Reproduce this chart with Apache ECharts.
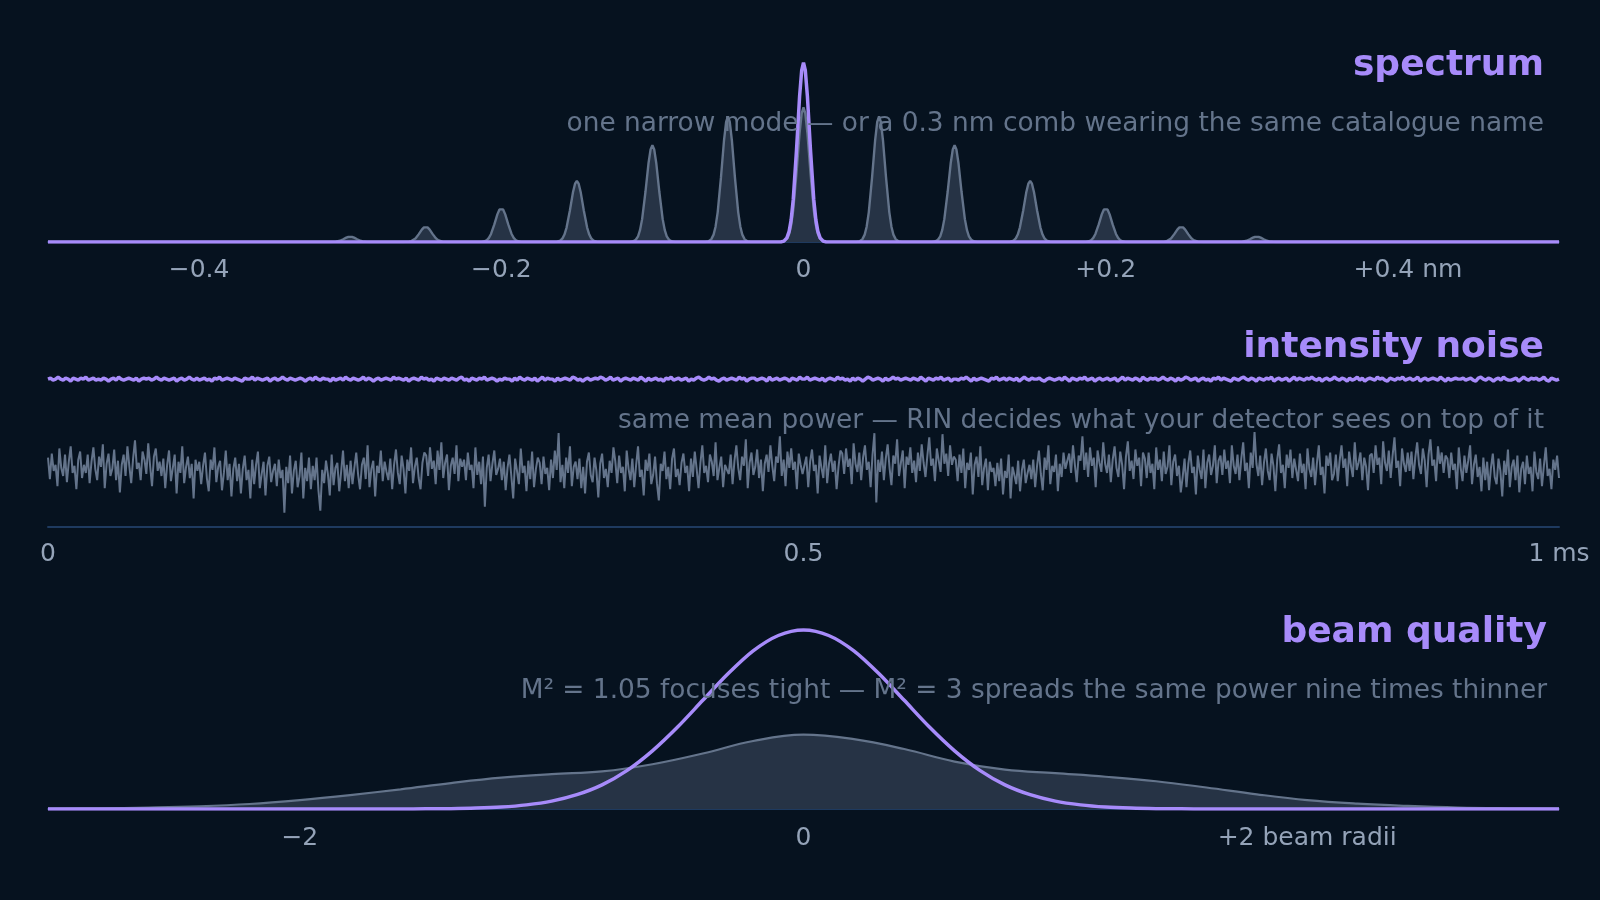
<!DOCTYPE html>
<html>
<head>
<meta charset="utf-8">
<title>laser spec sheet</title>
<script src="https://cdn.jsdelivr.net/npm/echarts@6/dist/echarts.min.js"></script>
<style>
  html, body { margin: 0; padding: 0; background: #06121f; }
  #main { width: 1600px; height: 900px; }
</style>
</head>
<body>
<div id="main"></div>
<script>
// spectrum panel (nm, relative power)
var specTicks = [-0.4, -0.2, 0, 0.2, 0.4];
var specTickLabels = ['\u22120.4', '\u22120.2', '0', '+0.2', '+0.4 nm'];
var combCentres = [-0.3, -0.25, -0.2, -0.15, -0.1, -0.05, 0, 0.05, 0.1, 0.15, 0.2, 0.25, 0.3];
var combHeights = [0.03, 0.085, 0.19, 0.34, 0.54, 0.70, 0.75, 0.70, 0.54, 0.34, 0.19, 0.085, 0.03];
var modeCentres = [0];
var modeHeights = [1];
// line shape of one longitudinal mode: offset from centre (nm) and fraction of peak
var lineShapeOffsets = [-0.015, -0.013, -0.011, -0.0095, -0.0082, -0.0068, -0.0046, -0.0026, -0.0012, 0,
                        0.0012, 0.0026, 0.0046, 0.0068, 0.0082, 0.0095, 0.011, 0.013, 0.015];
var lineShapeLevels = [0, 0.005, 0.023, 0.059, 0.122, 0.236, 0.516, 0.81, 0.956, 1,
                       0.956, 0.81, 0.516, 0.236, 0.122, 0.059, 0.023, 0.005, 0];

// intensity noise panel (ms, arbitrary units)
var noiseTicks = [0, 0.5, 1];
var noiseTickLabels = ['0', '0.5', '1 ms'];
var quietTrace = [
  145,146,144,145,147,145,144,146,145,143,146,145,144,146,145,147,144,145,146,144,
  145,144,146,145,143,145,146,144,147,145,144,145,146,145,144,146,143,145,146,145,
  146,144,145,147,145,144,146,145,144,145,146,143,145,146,144,145,147,145,144,146,
  144,145,146,144,145,143,146,145,147,144,145,146,145,144,146,145,144,143,146,145,
  145,147,144,146,145,144,145,146,143,145,146,144,145,147,145,144,146,145,144,145,
  146,145,143,145,146,144,147,145,144,146,145,145,143,146,144,145,146,144,147,145,
  144,146,145,144,145,147,144,146,145,143,145,146,144,145,146,145,144,147,145,146,
  145,144,146,143,145,146,145,144,147,145,146,144,145,143,146,145,144,146,145,144,
  146,145,144,146,147,144,145,143,146,145,144,146,145,147,144,145,146,145,143,145,
  144,146,145,145,143,146,144,147,145,144,146,145,144,146,143,145,147,144,146,145,
  145,143,146,144,145,146,145,144,147,146,144,145,143,145,146,144,145,146,145,147,
  146,144,145,147,144,145,146,143,145,146,145,144,146,145,144,147,145,143,146,144,
  145,146,144,145,143,146,145,147,144,145,146,144,145,146,143,145,144,146,147,145,
  144,145,147,145,146,144,143,145,146,144,145,146,145,144,147,145,146,143,145,146,
  146,144,145,146,145,143,147,144,145,146,144,145,146,145,143,146,145,144,147,145,
  145,147,144,145,146,145,144,146,143,145,146,145,144,147,145,146,144,145,143,146,
  144,146,145,143,145,147,146,144,145,146,145,143,146,144,145,147,145,146,144,145,
  146,145,144,146,145,144,147,145,143,146,145,144,146,145,147,144,145,146,143,145,
  145,144,146,145,147,145,143,146,144,145,146,145,144,143,146,145,147,144,145,146,
  144,146,145,144,146,143,145,147,145,144,146,145,145,146,144,143,145,146,145,144,
  145,146,144,147,145,143,146,145,144,146,145,147,144,145,146,143,145,146,144,145,
  146,144,145,146,143,145,147,144,146,145,144,146,145,143,147,145,144,146,145,146,
  144,145,147,145,144,146,145,143,146,144,145,147,146,144,145,146,143,145,146,144,
  145,143,146,145,147,144,146,145,144,143,146,145,144,146,147,145,144,146,145,143,
  146,145,144,146,145,147,143,145,146,144,145,146,143,145,147,144,146,145,144,146,
  145,147,145,144,146,143,145,146,144,145,147,145,144,146,145,143,146,144,145,147,
  144,146,143,145,146,145,144,147,145,146,144,143,146,145,144,146,145,147,144,145,
  146,144,145,147,143,145,146,144,145,146,145,144,147,145,143,146,144,145,146,145,
  145,146,144,145,146,144,143,146,147,145,144,146,145,143,145,146,144,147,145,144,
  144,145,146,143,145,147,145,144,146,145,146,144,145,147,144,143,146,145,144,145
];
var noisyTrace = [
  68,47,72,55,61,40,77,58,50,71,44,64,79,53,60,37,66,74,48,61,
  53,71,43,64,78,57,46,69,59,81,38,62,72,50,57,76,46,65,34,61,
  71,50,79,60,43,67,85,57,63,46,74,66,52,82,60,40,69,77,55,64,
  50,67,38,61,75,45,58,71,33,64,53,79,43,59,69,48,62,28,66,55,
  64,42,60,73,48,35,66,56,78,44,59,65,36,53,75,46,62,30,57,68,
  45,62,33,57,70,46,56,28,66,42,61,74,38,52,64,31,60,69,44,55,
  62,40,66,48,56,14,59,43,70,33,55,65,39,50,73,28,58,45,68,37,
  60,46,68,36,16,56,43,65,52,31,71,41,58,63,35,54,75,45,61,38,
  65,42,58,73,51,37,61,68,47,80,39,57,65,30,60,53,75,45,64,54,
  46,67,37,61,76,53,42,70,57,33,66,55,78,43,59,68,48,37,63,73,
  70,50,78,57,65,42,75,56,83,48,63,71,36,60,68,52,80,45,67,59,
  66,46,73,56,61,38,78,51,64,42,69,20,58,71,45,62,75,51,57,67,
  46,64,36,58,71,50,28,67,55,42,77,53,60,35,65,47,74,39,57,68,
  63,42,69,52,58,36,66,48,75,56,92,44,61,38,68,53,79,40,59,64,
  47,67,38,59,33,64,73,51,44,68,55,29,62,72,48,57,39,65,53,78,
  64,43,70,53,59,35,75,57,46,67,39,61,79,49,56,31,66,55,72,42,
  51,69,43,26,62,55,74,47,59,37,67,77,49,57,41,63,72,53,60,35,
  67,49,74,57,38,63,80,53,60,44,71,64,50,83,46,58,69,39,61,56,
  52,71,42,65,80,58,46,69,60,86,38,63,73,51,59,76,48,66,35,62,
  71,54,80,60,45,69,63,89,50,66,40,74,58,77,56,64,37,72,61,52,
  51,69,39,64,76,55,61,33,70,58,48,80,43,62,72,54,65,37,59,75,
  72,52,77,59,67,42,82,62,54,73,46,68,80,56,64,39,71,92,24,66,
  54,74,46,67,81,58,41,70,62,86,50,63,75,38,69,61,78,53,65,44,
  73,55,81,63,49,70,88,60,67,45,77,65,54,91,62,72,50,80,61,69,
  66,45,71,53,77,38,63,56,73,32,61,69,49,79,41,58,67,36,64,54,
  58,40,63,45,67,32,55,48,71,28,59,51,42,65,35,56,66,43,53,61,
  47,66,39,60,75,52,36,68,56,80,42,60,54,71,35,62,49,73,57,65,
  72,53,80,61,44,70,65,89,56,73,49,78,60,68,39,75,63,54,83,62,
  53,71,44,66,79,58,49,74,61,37,69,84,55,65,47,76,60,68,40,73,
  67,48,73,53,62,37,78,56,66,45,74,52,59,80,41,64,71,50,60,34,
  49,67,39,62,75,53,59,32,70,56,47,76,38,63,71,51,60,80,43,65,
  70,51,76,57,65,43,80,60,52,71,46,67,83,55,63,38,73,58,93,62,
  50,70,41,63,77,55,46,72,60,35,66,81,53,61,38,71,58,76,48,67,
  66,45,72,53,62,37,77,57,49,68,41,63,80,51,59,33,70,60,73,46,
  52,71,45,65,80,58,67,40,74,60,49,83,56,63,73,46,68,59,36,70,
  72,53,80,61,68,42,84,63,55,75,48,70,88,58,65,40,77,62,54,73,
  55,74,47,68,83,61,52,77,65,39,71,86,60,66,45,79,62,73,53,70,
  67,48,73,56,62,37,78,58,45,70,53,65,80,42,61,71,49,59,35,68,
  46,64,36,58,72,49,42,67,55,30,65,51,76,39,59,66,46,70,34,57,
  64,42,70,52,59,35,74,54,47,67,40,60,78,50,57,37,66,56,70,48
];

// beam quality panel (beam radii, relative intensity)
var beamTicks = [-2, 0, 2];
var beamTickLabels = ['\u22122', '0', '+2 beam radii'];
var goodBeamX = [-3, -1.6, -1.5, -1.4, -1.3, -1.2, -1.1, -1, -0.9, -0.8, -0.7, -0.6, -0.5, -0.4, -0.3, -0.2, -0.1, 0,
                 0.1, 0.2, 0.3, 0.4, 0.5, 0.6, 0.7, 0.8, 0.9, 1, 1.1, 1.2, 1.3, 1.4, 1.5, 1.6, 3];
var goodBeam = [0, 0, 0.001, 0.002, 0.005, 0.011, 0.023, 0.044, 0.08, 0.135, 0.216, 0.325, 0.458, 0.607, 0.755, 0.883, 0.969, 1,
                0.969, 0.883, 0.755, 0.607, 0.458, 0.325, 0.216, 0.135, 0.08, 0.044, 0.023, 0.011, 0.005, 0.002, 0.001, 0, 0];
var poorBeamX = [-3, -2.8, -2.6, -2.4, -2.2, -2, -1.8, -1.6, -1.4, -1.2, -1, -0.8, -0.6, -0.4, -0.2, 0,
                 0.2, 0.4, 0.6, 0.8, 1, 1.2, 1.4, 1.6, 1.8, 2, 2.2, 2.4, 2.6, 2.8, 3];
var poorBeam = [0.002, 0.004, 0.008, 0.015, 0.028, 0.05, 0.078, 0.11, 0.145, 0.175, 0.195, 0.21, 0.25, 0.31, 0.38, 0.415,
                0.39, 0.335, 0.265, 0.22, 0.2, 0.18, 0.155, 0.12, 0.082, 0.05, 0.03, 0.017, 0.008, 0.004, 0.002];

var PURPLE = '#a78bfa';
var SLATE = '#64748b';
var FILL = '#263345';
var AXIS = '#1e3a5f';
var LABEL = '#94a3b8';
var FONT = 'DejaVu Sans';

function peakLine(centres, heights) {
    var pts = [[-0.5, 0]];
    for (var i = 0; i < centres.length; i++) {
        for (var j = 0; j < lineShapeOffsets.length; j++) {
            pts.push([centres[i] + lineShapeOffsets[j], heights[i] * lineShapeLevels[j]]);
        }
    }
    pts.push([0.5, 0]);
    return pts;
}

function pairs(xs, ys) {
    return ys.map(function (y, i) { return [xs[i], y]; });
}

function spread(ys) {
    return ys.map(function (y, i) { return [i / (ys.length - 1), y]; });
}

function tickAxis(idx, min, max, ticks, labels, margin) {
    return {
        type: 'value', gridIndex: idx, min: min, max: max,
        axisLine: { show: true, lineStyle: { color: AXIS, width: 2 } },
        axisTick: { show: false },
        splitLine: { show: false },
        axisLabel: {
            customValues: ticks,
            color: LABEL, fontSize: 25, fontFamily: FONT, margin: margin,
            formatter: function (v) {
                for (var k = 0; k < ticks.length; k++) {
                    if (Math.abs(ticks[k] - v) < 1e-9) return labels[k];
                }
                return '';
            }
        }
    };
}

function heading(text, top, right) {
    return {
        text: text, right: right, top: top,
        textStyle: { color: PURPLE, fontSize: 36, fontWeight: 'bold', fontFamily: FONT }
    };
}

function note(text, top, right) {
    return {
        text: text, right: right, top: top,
        textStyle: { color: SLATE, fontSize: 26.4, fontWeight: 'normal', fontFamily: FONT }
    };
}

var myChart = echarts.init(document.getElementById('main'));

var option = {
    backgroundColor: '#06121f',
    animation: false,
    title: [
        heading('spectrum', 43, 51),
        note('one narrow mode \u2014 or a 0.3 nm comb wearing the same catalogue name', 106, 51),
        heading('intensity noise', 325, 51),
        note('same mean power \u2014 RIN decides what your detector sees on top of it', 403, 51),
        heading('beam quality', 610, 48),
        note('M\u00b2 = 1.05 focuses tight \u2014 M\u00b2 = 3 spreads the same power nine times thinner', 673, 48)
    ],
    grid: [
        { left: 48, right: 41, top: 59, height: 183 },
        { left: 48, right: 41, top: 323, height: 204 },
        { left: 48, right: 41, top: 621, height: 188 }
    ],
    xAxis: [
        tickAxis(0, -0.5, 0.5, specTicks, specTickLabels, 16),
        tickAxis(1, 0, 1, noiseTicks, noiseTickLabels, 15),
        tickAxis(2, -3, 3, beamTicks, beamTickLabels, 17)
    ],
    yAxis: [
        { type: 'value', gridIndex: 0, min: 0, max: 1.02, show: false },
        { type: 'value', gridIndex: 1, min: 0, max: 200, show: false },
        { type: 'value', gridIndex: 2, min: 0, max: 1.05, show: false }
    ],
    series: [
        {
            name: 'comb', type: 'line', xAxisIndex: 0, yAxisIndex: 0,
            data: peakLine(combCentres, combHeights),
            showSymbol: false, z: 2,
            lineStyle: { color: SLATE, width: 2.4 },
            areaStyle: { color: FILL, opacity: 1 }
        },
        {
            name: 'single mode', type: 'line', xAxisIndex: 0, yAxisIndex: 0,
            data: peakLine(modeCentres, modeHeights),
            showSymbol: false, z: 3,
            lineStyle: { color: PURPLE, width: 3.5 }
        },
        {
            name: 'high RIN', type: 'line', xAxisIndex: 1, yAxisIndex: 1,
            data: spread(noisyTrace),
            showSymbol: false, z: 2,
            lineStyle: { color: SLATE, width: 2 }
        },
        {
            name: 'low RIN', type: 'line', xAxisIndex: 1, yAxisIndex: 1,
            data: spread(quietTrace),
            showSymbol: false, z: 3,
            lineStyle: { color: PURPLE, width: 3.4 }
        },
        {
            name: 'M2 = 3', type: 'line', xAxisIndex: 2, yAxisIndex: 2,
            data: pairs(poorBeamX, poorBeam),
            smooth: 0.4, showSymbol: false, z: 2,
            lineStyle: { color: SLATE, width: 2.2 },
            areaStyle: { color: FILL, opacity: 1 }
        },
        {
            name: 'M2 = 1.05', type: 'line', xAxisIndex: 2, yAxisIndex: 2,
            data: pairs(goodBeamX, goodBeam),
            smooth: 0.3, showSymbol: false, z: 3,
            lineStyle: { color: PURPLE, width: 3.5 }
        }
    ]
};

myChart.setOption(option);
</script>
</body>
</html>
